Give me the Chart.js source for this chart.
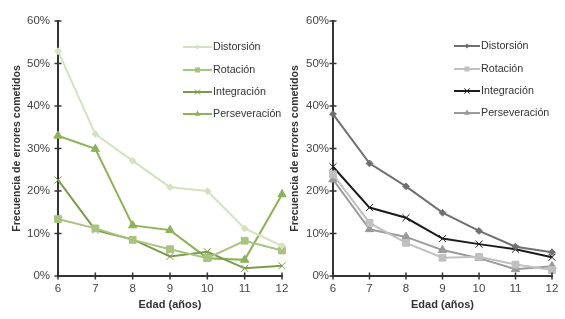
<!DOCTYPE html>
<html>
<head>
<meta charset="utf-8">
<script src="https://cdn.jsdelivr.net/npm/chart.js@4/dist/chart.umd.min.js"></script>
<style>
  html,body{margin:0;padding:0;background:#fff;}
  #wrap{position:relative;width:565px;height:319px;overflow:hidden;}
  .box{position:absolute;top:0;height:319px;}
</style>
</head>
<body>
<div id="wrap">
  <div class="box" id="b1" style="left:0;width:300px;"><canvas id="c1"></canvas></div>
  <div class="box" id="b2" style="left:283px;width:282px;"><canvas id="c2"></canvas></div>
</div>
<script>
// ---- data ----
const ages = ['6','7','8','9','10','11','12'];
const yTicks = [0,10,20,30,40,50,60];
const seriesNames = ['Distorsión','Rotación','Integración','Perseveración'];

const leftDistorsion     = [52.9, 33.4, 27.1, 20.9, 20.0, 11.2, 7.1];
const leftRotacion       = [13.4, 11.2, 8.5, 6.3, 4.2, 8.3, 6.0];
const leftIntegracion    = [22.6, 10.8, 8.6, 4.6, 5.7, 1.8, 2.4];
const leftPerseveracion  = [33.0, 29.9, 11.9, 10.8, 4.2, 3.8, 19.2];

const rightDistorsion    = [38.1, 26.5, 21.1, 14.9, 10.6, 6.9, 5.6];
const rightRotacion      = [23.9, 12.5, 7.8, 4.3, 4.5, 2.7, 1.4];
const rightIntegracion   = [25.7, 16.1, 13.7, 8.8, 7.5, 6.3, 4.4];
const rightPerseveracion = [22.7, 11.0, 9.2, 6.1, 4.2, 1.6, 2.3];

const FONT = "'Liberation Sans', Arial, sans-serif";

const styles = [
  {pointStyle:'rectRot', pointRadius:3.4},
  {pointStyle:'rect', pointRadius:4.8},
  {pointStyle:'crossRot', pointRadius:5},
  {pointStyle:'triangle', pointRadius:4.8}
];

function drawMarker(ctx, style, r, x, y, color){
  ctx.save();
  ctx.fillStyle = color; ctx.strokeStyle = color; ctx.lineWidth = 1;
  ctx.beginPath();
  if (style === 'rectRot'){
    const s = r;
    ctx.moveTo(x, y-s); ctx.lineTo(x+s, y); ctx.lineTo(x, y+s); ctx.lineTo(x-s, y); ctx.closePath(); ctx.fill();
  } else if (style === 'rect'){
    const s = r*Math.SQRT1_2;
    ctx.rect(x-s, y-s, 2*s, 2*s); ctx.fill();
  } else if (style === 'crossRot'){
    const s = r*Math.SQRT1_2;
    ctx.moveTo(x-s,y-s); ctx.lineTo(x+s,y+s); ctx.moveTo(x-s,y+s); ctx.lineTo(x+s,y-s); ctx.stroke();
  } else if (style === 'triangle'){
    ctx.moveTo(x, y-r); ctx.lineTo(x+r*0.866, y+r*0.5); ctx.lineTo(x-r*0.866, y+r*0.5); ctx.closePath(); ctx.fill();
  }
  ctx.restore();
}

function makeChart(id, data, colors, cfg){
  const datasets = data.map((d,i)=>({
    label: seriesNames[i],
    data: d,
    borderColor: colors[i],
    backgroundColor: colors[i],
    borderWidth: 2,
    pointStyle: styles[i].pointStyle,
    pointRadius: styles[i].pointRadius,
    pointBorderWidth: 1,
    pointBorderColor: colors[i],
    pointBackgroundColor: colors[i],
    tension: 0
  }));
  const tickCross = {
    id:'tickCross',
    afterDraw(chart){
      const ctx = chart.ctx, xs = chart.scales.x, ys = chart.scales.y;
      ctx.save();
      ctx.strokeStyle = '#333'; ctx.lineWidth = 1.5;
      const ax = ys.left + ys.width, ay = xs.top;
      yTicks.forEach(v=>{
        const y = ys.getPixelForValue(v);
        ctx.beginPath(); ctx.moveTo(ax-3.5, y); ctx.lineTo(ax+3.5, y); ctx.stroke();
      });
      ages.forEach((a,i)=>{
        const x = xs.getPixelForValue(i);
        ctx.beginPath(); ctx.moveTo(x, ay-3.5); ctx.lineTo(x, ay+3.5); ctx.stroke();
      });
      // legend
      ctx.font = '10.7px ' + FONT;
      ctx.textBaseline = 'middle';
      ctx.textAlign = 'left';
      seriesNames.forEach((n,i)=>{
        const y = cfg.legY[i];
        ctx.strokeStyle = colors[i]; ctx.lineWidth = 2;
        ctx.beginPath(); ctx.moveTo(cfg.legX0, y); ctx.lineTo(cfg.legX1, y); ctx.stroke();
        drawMarker(ctx, styles[i].pointStyle, styles[i].pointRadius*0.75, (cfg.legX0+cfg.legX1)/2, y, colors[i]);
        ctx.fillStyle = '#333';
        ctx.fillText(n, cfg.legX1+1, y);
      });
      ctx.restore();
    }
  };
  return new Chart(document.getElementById(id), {
    type:'line',
    data:{labels: ages, datasets},
    plugins:[tickCross],
    options:{
      responsive:true, maintainAspectRatio:false, animation:false,
      layout:{padding:{top:21, right:cfg.padRight, left:0, bottom:0}},
      plugins:{legend:{display:false}, tooltip:{enabled:false}},
      scales:{
        x:{
          type:'category', offset:false,
          grid:{display:false, drawTicks:false},
          border:{display:true, color:'#333', width:2},
          ticks:{color:'#444', font:{family:FONT, size:11.5}, padding:6, maxRotation:0, autoSkip:false},
          title:{display:true, text:'Edad (años)', color:'#333', font:{family:FONT, size:11, weight:'bold'}, padding:{top:0,bottom:7}},
          afterFit(s){ s.height = 43; }
        },
        y:{
          min:0, max:60,
          grid:{display:false, drawTicks:false},
          border:{display:true, color:'#333', width:2},
          ticks:{stepSize:10, color:'#444', font:{family:FONT, size:11.5}, padding:cfg.tickPad, callback:v=>v+'%'},
          title:{display:true, text:'Frecuencia de errores cometidos', color:'#333', font:{family:FONT, size:10.6, weight:'bold'}, padding:{top:cfg.titlePad,bottom:0}},
          afterFit(s){ s.width = cfg.axisLeft; }
        }
      }
    }
  });
}

makeChart('c1',
  [leftDistorsion, leftRotacion, leftIntegracion, leftPerseveracion],
  ['#d5e2c0','#a9c47f','#7c9b4d','#8db358'],
  {padRight:18, axisLeft:58, tickPad:8, titlePad:11, legX0:183, legX1:212, legY:[47,70,92,114]});

makeChart('c2',
  [rightDistorsion, rightRotacion, rightIntegracion, rightPerseveracion],
  ['#707070','#c0c0c0','#1c1c1c','#9a9a9a'],
  {padRight:13, axisLeft:50, tickPad:4, titlePad:5.6, legX0:171, legX1:197, legY:[46,69,91,113]});
</script>
</body>
</html>
